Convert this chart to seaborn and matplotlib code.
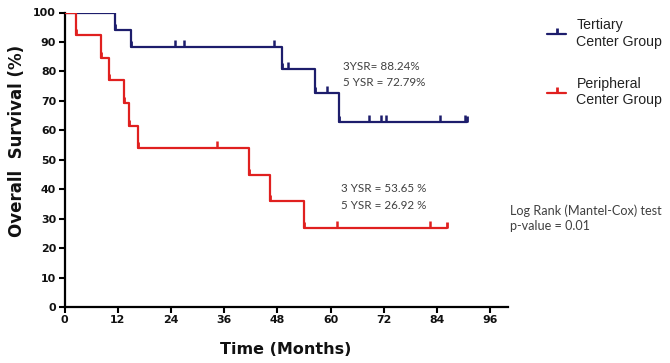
import numpy as np
import pandas as pd
import matplotlib
matplotlib.use("Agg")
import matplotlib.pyplot as plt
from matplotlib.lines import Line2D
import seaborn as sns

# ---- data ----
groups = ["Tertiary\nCenter Group", "Peripheral\nCenter Group"]
tert_times = [0, 11.3, 15.1, 49.0, 56.4, 61.8, 90.7]
tert_surv = [100, 94.12, 88.24, 80.88, 72.79, 62.9, 62.9]
tert_censor = [25.0, 27.0, 47.3, 50.5, 59.3, 68.6, 71.4, 72.5, 84.6, 90.3]

peri_times = [0, 2.6, 8.3, 10.1, 13.4, 14.5, 16.6, 41.7, 46.3, 53.9, 86.2]
peri_surv = [100, 92.31, 84.62, 76.92, 69.23, 61.54, 53.85, 44.87, 35.9, 26.92, 26.92]
peri_censor = [34.3, 61.4, 82.3]

x_ticks = [0, 12, 24, 36, 48, 60, 72, 84, 96]
y_ticks = [0, 10, 20, 30, 40, 50, 60, 70, 80, 90, 100]

colors = ["#1d1d6c", "#e0201f"]

sns.set_theme(style="ticks")
plt.rcParams["font.family"] = ["DejaVu Sans"]

W, H = 670, 363
fig = plt.figure(figsize=(W / 100, H / 100), dpi=100)
ax = fig.add_axes([64.5 / W, 1 - 307 / H, (508 - 64.5) / W, (307 - 12.5) / H])

def px(x, y):
    return x / W, 1 - y / H

series = [(tert_times, tert_surv, tert_censor), (peri_times, peri_surv, peri_censor)]
for (t, s, c), col, g in zip(series, colors, groups):
    df = pd.DataFrame({"time": t, "surv": s})
    sns.lineplot(data=df, x="time", y="surv", ax=ax, color=col, lw=1.6,
                 drawstyle="steps-post", estimator=None, sort=False,
                 marker=2, markersize=4.5, markeredgewidth=2, markeredgecolor=col,
                 zorder=3)
    idx = np.searchsorted(np.array(t), np.array(c), side="right") - 1
    cy = np.array(s)[idx]
    sns.scatterplot(x=c, y=cy, ax=ax, marker=2, s=22, color=col, linewidth=1.8, zorder=4)

ax.set_xlim(0, 100)
ax.set_ylim(0, 100)
ax.set_xticks(x_ticks)
ax.set_yticks(y_ticks)
ax.set_xlabel("")
ax.set_ylabel("")
for lab in ax.get_xticklabels() + ax.get_yticklabels():
    lab.set_fontweight("bold")
    lab.set_fontsize(7.9)
    lab.set_color("#111111")
ax.tick_params(axis="both", direction="out", length=4, width=1.5, color="black", pad=2)
for side in ["left", "bottom"]:
    ax.spines[side].set_linewidth(1.6)
    ax.spines[side].set_color("black")
sns.despine(ax=ax)

fig.text(*px(286, 350), "Time (Months)", ha="center", va="center",
         fontsize=11.5, fontweight="bold", color="#111111")
fig.text(*px(17, 141), "Overall  Survival (%)", ha="center", va="center",
         rotation=90, fontsize=12, fontweight="bold", color="#111111")

anno_kw = dict(fontsize=8.4, color="#404040", family=["Lato", "DejaVu Sans"], va="center", ha="left")
fig.text(*px(343, 66), "3YSR= 88.24%", **anno_kw)
fig.text(*px(343, 82), "5 YSR = 72.79%", **anno_kw)
fig.text(*px(341, 188), "3 YSR = 53.65 %", **anno_kw)
fig.text(*px(341, 205), "5 YSR = 26.92 %", **anno_kw)
lr_kw = dict(anno_kw, fontsize=9.1)
fig.text(*px(510, 211), "Log Rank (Mantel-Cox) test", **lr_kw)
fig.text(*px(510, 226), "p-value = 0.01", **lr_kw)

handles = [Line2D([], [], color=col, lw=1.6, marker=2, markersize=4.5,
                  markeredgewidth=2, markeredgecolor=col) for col in colors]
fig.legend(handles, groups, loc="upper left", bbox_to_anchor=px(536, 7),
           frameon=False, handlelength=1.35, handletextpad=0.7, labelspacing=2.0,
           prop={"family": ["Liberation Sans", "DejaVu Sans"], "size": 10.2},
           borderpad=0.3)
for txt in fig.legends[0].get_texts():
    txt.set_color("#222222")
    txt.set_linespacing(1.2)

fig.savefig("out.png", dpi=100)
